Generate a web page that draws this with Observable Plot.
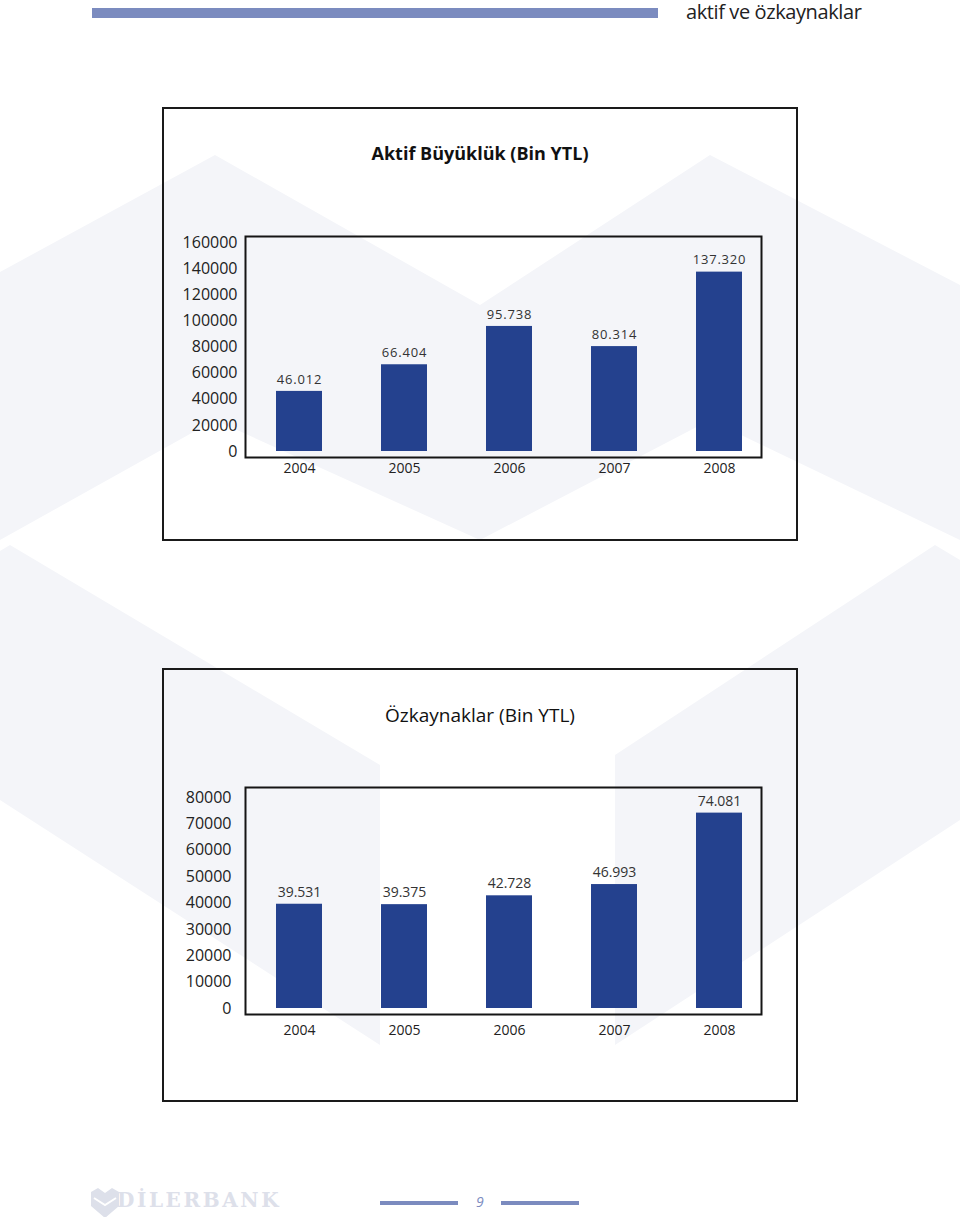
<!DOCTYPE html>
<html>
<head>
<meta charset="utf-8">
<script src="https://cdn.jsdelivr.net/npm/d3@7"></script>
<script src="https://cdn.jsdelivr.net/npm/@observablehq/plot@0.6"></script>
<style>
  html, body { margin: 0; padding: 0; background: #fff; }
  body { width: 960px; height: 1217px; position: relative; overflow: hidden; font-family: "Open Sans", "Noto Sans", sans-serif; color: #222; }
  #bg { position: absolute; left: 0; top: 0; z-index: 0; }
  .hbar { position: absolute; left: 92px; top: 8px; width: 566px; height: 10px; background: #7b8bbf; }
  .htext { position: absolute; left: 686px; top: -2px; font-size: 20px; letter-spacing: -0.4px; color: #222; white-space: nowrap; }
  .box { position: absolute; left: 162px; width: 632px; height: 430px; border: 2px solid #1a1a1a; z-index: 1; }
  .title { position: absolute; left: 162px; width: 636px; text-align: center; font-size: 18px; color: #111; z-index: 2; white-space: nowrap; }
  .chart { position: absolute; left: 162px; z-index: 2; }
  .chart svg { overflow: visible; }
  .fline { position: absolute; top: 1201px; height: 4px; background: #7b8bbf; }
  .fnum { position: absolute; left: 476px; top: 1192px; font-size: 14px; font-style: italic; color: #7b8bbf; }
  .logo { position: absolute; left: 90px; top: 1188px; }
  .logotext { position: absolute; left: 117px; top: 1188px; font-family: "DejaVu Serif", "Liberation Serif", serif; font-weight: bold; font-size: 20px; color: #dde0ea; letter-spacing: 2.6px; }
</style>
</head>
<body>
<svg id="bg" width="960" height="1217">
  <g fill="#f4f5f9">
    <polygon points="0,272 215,155 480,305 710,155 960,285 960,540 710,420 480,540 215,420 0,540"/>
    <polygon points="10,545 380,765 380,1045 0,800 0,551"/>
    <polygon points="935,545 615,755 615,1045 960,820 960,560"/>
  </g>
</svg>

<div class="hbar"></div>
<div class="htext">aktif ve özkaynaklar</div>

<div class="box" style="top:107px"></div>
<div class="title" style="top:141px; font-weight:bold;">Aktif Büyüklük (Bin YTL)</div>
<div class="chart" id="c1" style="top:220px"></div>

<div class="box" style="top:668px"></div>
<div class="title" style="top:702px; font-size:19px;">Özkaynaklar (Bin YTL)</div>
<div class="chart" id="c2" style="top:770px"></div>

<svg class="logo" width="30" height="30" viewBox="0 0 28 30">
  <path d="M0,4 L7,0 L14,5 L21,0 L28,4 L28,18 L14,30 L0,18 Z" fill="#dde0ea"/>
  <path d="M3,10 L14,17 L25,10" fill="none" stroke="#fff" stroke-width="2"/>
</svg>
<div class="logotext">DİLERBANK</div>
<div class="fline" style="left:380px; width:78px"></div>
<div class="fnum">9</div>
<div class="fline" style="left:501px; width:78px"></div>

<script>
// ---- data ----
const years = ["2004", "2005", "2006", "2007", "2008"];
const aktifValues = [46012, 66404, 95738, 80314, 137320];
const ozkaynakValues = [39531, 39375, 42728, 46993, 74081];
const aktifTicks = [0, 20000, 40000, 60000, 80000, 100000, 120000, 140000, 160000];
const ozkaynakTicks = [0, 10000, 20000, 30000, 40000, 50000, 60000, 70000, 80000];

const trFormat = d3.formatLocale({decimal: ",", thousands: ".", grouping: [3], currency: ["", ""]}).format(",d");
const barColor = "#24418e";

function makeChart(values, ticks, opts) {
  const data = years.map((y, i) => ({year: y, value: values[i]}));
  return Plot.plot({
    width: 636,
    height: opts.height,
    marginLeft: 83,
    marginRight: 37,
    marginTop: opts.marginTop,
    marginBottom: opts.marginBottom,
    style: {fontFamily: "'Open Sans', 'Noto Sans', sans-serif", background: "transparent", color: "#222"},
    x: {domain: years, paddingInner: 0.564, paddingOuter: 0.171, insetLeft: 12, axis: null},
    y: {domain: [0, ticks[ticks.length - 1]], insetTop: opts.insetTop, insetBottom: opts.insetBottom, axis: null},
    marks: [
      Plot.axisX({tickSize: 0, tickPadding: opts.xPad, fontSize: 14, label: null}),
      Plot.axisY({ticks: ticks, tickSize: 0, tickPadding: opts.yPad, fontSize: 16, label: null, tickFormat: d => String(d)}),
      Plot.barY(data, {x: "year", y: "value", fill: barColor}),
      Plot.text(data, {x: "year", y: "value", text: d => trFormat(d.value), dy: -12, fontSize: opts.labelSize, fill: "#333"}),
      Plot.frame({stroke: "#151515", strokeWidth: 2})
    ]
  });
}

const c1 = makeChart(aktifValues, aktifTicks, {height: 270, marginTop: 16, marginBottom: 33, insetTop: 6, insetBottom: 6, xPad: 6, yPad: 8, labelSize: 13});
c1.querySelectorAll("g[aria-label='text'] text").forEach(t => t.style.letterSpacing = "0.8px");
document.getElementById("c1").appendChild(c1);

const c2 = makeChart(ozkaynakValues, ozkaynakTicks, {height: 290, marginTop: 17, marginBottom: 46, insetTop: 10, insetBottom: 6, xPad: 11, yPad: 14, labelSize: 14});
document.getElementById("c2").appendChild(c2);
</script>
</body>
</html>
